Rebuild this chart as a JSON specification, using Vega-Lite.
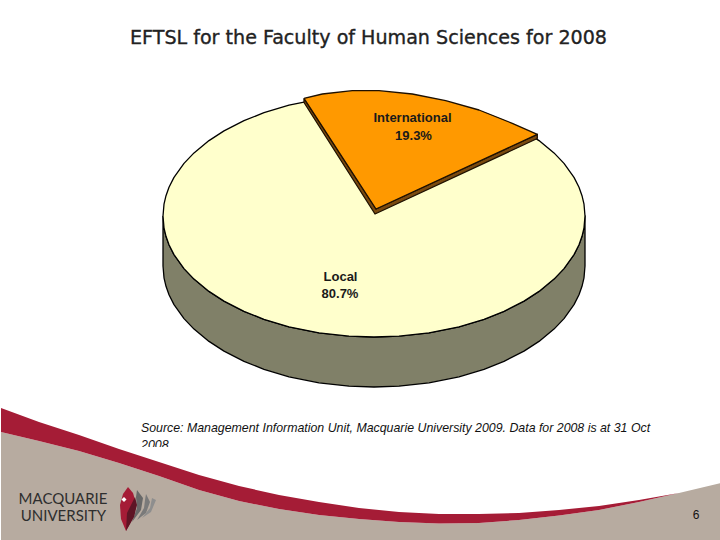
{"$schema":"https://vega.github.io/schema/vega-lite/v6.json","width":720,"height":540,"padding":0,"background":"white","view":{"stroke":null},"layer":[
{"data":{"values":[{"t":"2008","x":142,"y":445}]},"mark":{"type":"text","font":"Liberation Sans","fontStyle":"italic","fontSize":12.4,"align":"left","baseline":"middle","color":"#111"},"encoding":{"x":{"field":"x","type":"quantitative","scale":{"domain":[2,722]},"axis":null},"y":{"field":"y","type":"quantitative","scale":{"domain":[0,540],"reverse":true},"axis":null},"text":{"field":"t"}}},
{"data":{"values":[
{"p":"patch","i":1,"x":135,"y":447},{"p":"patch","i":2,"x":180,"y":447},{"p":"patch","i":3,"x":180,"y":470},{"p":"patch","i":4,"x":135,"y":470},{"p":"patch","i":5,"x":135,"y":447},
{"p":"tan","i":1,"x":2,"y":432},{"p":"tan","i":2,"x":40,"y":441},{"p":"tan","i":3,"x":80,"y":451},{"p":"tan","i":4,"x":120,"y":463},{"p":"tan","i":5,"x":160,"y":476},{"p":"tan","i":6,"x":200,"y":490},{"p":"tan","i":7,"x":240,"y":501},{"p":"tan","i":8,"x":280,"y":509},{"p":"tan","i":9,"x":320,"y":515},{"p":"tan","i":10,"x":360,"y":519},{"p":"tan","i":11,"x":400,"y":522},{"p":"tan","i":12,"x":440,"y":523.5},{"p":"tan","i":13,"x":480,"y":523},{"p":"tan","i":14,"x":520,"y":520},{"p":"tan","i":15,"x":560,"y":515.5},{"p":"tan","i":16,"x":600,"y":510},{"p":"tan","i":17,"x":640,"y":502},{"p":"tan","i":18,"x":680,"y":493},{"p":"tan","i":19,"x":722,"y":483},{"p":"tan","i":20,"x":722,"y":540},{"p":"tan","i":21,"x":2,"y":540},{"p":"tan","i":22,"x":2,"y":432},
{"p":"crimson","i":1,"x":2,"y":408},{"p":"crimson","i":2,"x":40,"y":422},{"p":"crimson","i":3,"x":80,"y":435},{"p":"crimson","i":4,"x":120,"y":449},{"p":"crimson","i":5,"x":160,"y":462},{"p":"crimson","i":6,"x":200,"y":475},{"p":"crimson","i":7,"x":240,"y":486},{"p":"crimson","i":8,"x":280,"y":495},{"p":"crimson","i":9,"x":320,"y":502},{"p":"crimson","i":10,"x":360,"y":508},{"p":"crimson","i":11,"x":400,"y":512},{"p":"crimson","i":12,"x":440,"y":514},{"p":"crimson","i":13,"x":480,"y":514},{"p":"crimson","i":14,"x":520,"y":513},{"p":"crimson","i":15,"x":560,"y":510},{"p":"crimson","i":16,"x":600,"y":506},{"p":"crimson","i":17,"x":640,"y":500},{"p":"crimson","i":18,"x":680,"y":493},{"p":"crimson","i":19,"x":640,"y":502},{"p":"crimson","i":20,"x":600,"y":510},{"p":"crimson","i":21,"x":560,"y":515.5},{"p":"crimson","i":22,"x":520,"y":520},{"p":"crimson","i":23,"x":480,"y":523},{"p":"crimson","i":24,"x":440,"y":523.5},{"p":"crimson","i":25,"x":400,"y":522},{"p":"crimson","i":26,"x":360,"y":519},{"p":"crimson","i":27,"x":320,"y":515},{"p":"crimson","i":28,"x":280,"y":509},{"p":"crimson","i":29,"x":240,"y":501},{"p":"crimson","i":30,"x":200,"y":490},{"p":"crimson","i":31,"x":160,"y":476},{"p":"crimson","i":32,"x":120,"y":463},{"p":"crimson","i":33,"x":80,"y":451},{"p":"crimson","i":34,"x":40,"y":441},{"p":"crimson","i":35,"x":2,"y":432},{"p":"crimson","i":36,"x":2,"y":408},
{"p":"petal3","i":1,"x":153,"y":498},{"p":"petal3","i":2,"x":157,"y":500},{"p":"petal3","i":3,"x":152,"y":512},{"p":"petal3","i":4,"x":143,"y":518},{"p":"petal3","i":5,"x":151,"y":508},{"p":"petal3","i":6,"x":153,"y":498},
{"p":"petal2","i":1,"x":147,"y":494},{"p":"petal2","i":2,"x":151,"y":502},{"p":"petal2","i":3,"x":147,"y":513},{"p":"petal2","i":4,"x":138,"y":520},{"p":"petal2","i":5,"x":145,"y":508},{"p":"petal2","i":6,"x":146,"y":500},{"p":"petal2","i":7,"x":147,"y":494},
{"p":"petal1","i":1,"x":138,"y":490},{"p":"petal1","i":2,"x":144,"y":498},{"p":"petal1","i":3,"x":142,"y":510},{"p":"petal1","i":4,"x":133,"y":522},{"p":"petal1","i":5,"x":138,"y":508},{"p":"petal1","i":6,"x":137,"y":497},{"p":"petal1","i":7,"x":138,"y":490},
{"p":"leaf","i":1,"x":129,"y":487},{"p":"leaf","i":2,"x":134,"y":493},{"p":"leaf","i":3,"x":137,"y":503},{"p":"leaf","i":4,"x":135,"y":516},{"p":"leaf","i":5,"x":127,"y":531},{"p":"leaf","i":6,"x":122,"y":519},{"p":"leaf","i":7,"x":121,"y":505},{"p":"leaf","i":8,"x":124,"y":494},{"p":"leaf","i":9,"x":129,"y":487},
{"p":"leafdark","i":1,"x":136,"y":497},{"p":"leafdark","i":2,"x":138,"y":505},{"p":"leafdark","i":3,"x":135,"y":517},{"p":"leafdark","i":4,"x":127,"y":531},{"p":"leafdark","i":5,"x":128,"y":513},{"p":"leafdark","i":6,"x":132,"y":505},{"p":"leafdark","i":7,"x":136,"y":497},
{"p":"star","i":1,"x":125,"y":497},{"p":"star","i":2,"x":127.5,"y":499.5},{"p":"star","i":3,"x":125,"y":502},{"p":"star","i":4,"x":122.5,"y":499.5},{"p":"star","i":5,"x":125,"y":497},
{"p":"side","i":1,"x":164,"y":216},{"p":"side","i":2,"x":165,"y":227.8},{"p":"side","i":3,"x":167,"y":236.3},{"p":"side","i":4,"x":170,"y":244.7},{"p":"side","i":5,"x":175,"y":254.6},{"p":"side","i":6,"x":185,"y":268.6},{"p":"side","i":7,"x":195,"y":279.1},{"p":"side","i":8,"x":210,"y":291.4},{"p":"side","i":9,"x":225,"y":301.1},{"p":"side","i":10,"x":245,"y":311.3},{"p":"side","i":11,"x":265,"y":319.3},{"p":"side","i":12,"x":290,"y":326.8},{"p":"side","i":13,"x":320,"y":332.8},{"p":"side","i":14,"x":350,"y":336.2},{"p":"side","i":15,"x":375,"y":337},{"p":"side","i":16,"x":400,"y":336.2},{"p":"side","i":17,"x":430,"y":332.8},{"p":"side","i":18,"x":460,"y":326.8},{"p":"side","i":19,"x":485,"y":319.3},{"p":"side","i":20,"x":505,"y":311.3},{"p":"side","i":21,"x":525,"y":301.1},{"p":"side","i":22,"x":540,"y":291.4},{"p":"side","i":23,"x":555,"y":279.1},{"p":"side","i":24,"x":565,"y":268.6},{"p":"side","i":25,"x":575,"y":254.6},{"p":"side","i":26,"x":580,"y":244.7},{"p":"side","i":27,"x":583,"y":236.3},{"p":"side","i":28,"x":585,"y":227.8},{"p":"side","i":29,"x":586,"y":216},
{"p":"side","i":30,"x":586,"y":266},{"p":"side","i":31,"x":585,"y":277.8},{"p":"side","i":32,"x":583,"y":286.3},{"p":"side","i":33,"x":580,"y":294.7},{"p":"side","i":34,"x":575,"y":304.6},{"p":"side","i":35,"x":565,"y":318.6},{"p":"side","i":36,"x":555,"y":329.1},{"p":"side","i":37,"x":540,"y":341.4},{"p":"side","i":38,"x":525,"y":351.1},{"p":"side","i":39,"x":505,"y":361.3},{"p":"side","i":40,"x":485,"y":369.3},{"p":"side","i":41,"x":460,"y":376.8},{"p":"side","i":42,"x":430,"y":382.8},{"p":"side","i":43,"x":400,"y":386.2},{"p":"side","i":44,"x":375,"y":387},{"p":"side","i":45,"x":350,"y":386.2},{"p":"side","i":46,"x":320,"y":382.8},{"p":"side","i":47,"x":290,"y":376.8},{"p":"side","i":48,"x":265,"y":369.3},{"p":"side","i":49,"x":245,"y":361.3},{"p":"side","i":50,"x":225,"y":351.1},{"p":"side","i":51,"x":210,"y":341.4},{"p":"side","i":52,"x":195,"y":329.1},{"p":"side","i":53,"x":185,"y":318.6},{"p":"side","i":54,"x":175,"y":304.6},{"p":"side","i":55,"x":170,"y":294.7},{"p":"side","i":56,"x":167,"y":286.3},{"p":"side","i":57,"x":165,"y":277.8},{"p":"side","i":58,"x":164,"y":266},{"p":"side","i":59,"x":164,"y":216},
{"p":"top","i":1,"x":164,"y":216},{"p":"top","i":2,"x":165,"y":204.2},{"p":"top","i":3,"x":167,"y":195.7},{"p":"top","i":4,"x":170,"y":187.3},{"p":"top","i":5,"x":175,"y":177.4},{"p":"top","i":6,"x":185,"y":163.4},{"p":"top","i":7,"x":195,"y":152.9},{"p":"top","i":8,"x":210,"y":140.6},{"p":"top","i":9,"x":225,"y":130.9},{"p":"top","i":10,"x":245,"y":120.7},{"p":"top","i":11,"x":265,"y":112.7},{"p":"top","i":12,"x":290,"y":105.2},{"p":"top","i":13,"x":320,"y":99.2},{"p":"top","i":14,"x":350,"y":95.8},{"p":"top","i":15,"x":375,"y":95},{"p":"top","i":16,"x":400,"y":95.8},{"p":"top","i":17,"x":430,"y":99.2},{"p":"top","i":18,"x":460,"y":105.2},{"p":"top","i":19,"x":485,"y":112.7},{"p":"top","i":20,"x":505,"y":120.7},{"p":"top","i":21,"x":525,"y":130.9},{"p":"top","i":22,"x":540,"y":140.6},{"p":"top","i":23,"x":555,"y":152.9},{"p":"top","i":24,"x":565,"y":163.4},{"p":"top","i":25,"x":575,"y":177.4},{"p":"top","i":26,"x":580,"y":187.3},{"p":"top","i":27,"x":583,"y":195.7},{"p":"top","i":28,"x":585,"y":204.2},{"p":"top","i":29,"x":586,"y":216},
{"p":"top","i":30,"x":585,"y":227.8},{"p":"top","i":31,"x":583,"y":236.3},{"p":"top","i":32,"x":580,"y":244.7},{"p":"top","i":33,"x":575,"y":254.6},{"p":"top","i":34,"x":565,"y":268.6},{"p":"top","i":35,"x":555,"y":279.1},{"p":"top","i":36,"x":540,"y":291.4},{"p":"top","i":37,"x":525,"y":301.1},{"p":"top","i":38,"x":505,"y":311.3},{"p":"top","i":39,"x":485,"y":319.3},{"p":"top","i":40,"x":460,"y":326.8},{"p":"top","i":41,"x":430,"y":332.8},{"p":"top","i":42,"x":400,"y":336.2},{"p":"top","i":43,"x":375,"y":337},{"p":"top","i":44,"x":350,"y":336.2},{"p":"top","i":45,"x":320,"y":332.8},{"p":"top","i":46,"x":290,"y":326.8},{"p":"top","i":47,"x":265,"y":319.3},{"p":"top","i":48,"x":245,"y":311.3},{"p":"top","i":49,"x":225,"y":301.1},{"p":"top","i":50,"x":210,"y":291.4},{"p":"top","i":51,"x":195,"y":279.1},{"p":"top","i":52,"x":185,"y":268.6},{"p":"top","i":53,"x":175,"y":254.6},{"p":"top","i":54,"x":170,"y":244.7},{"p":"top","i":55,"x":167,"y":236.3},{"p":"top","i":56,"x":165,"y":227.8},{"p":"top","i":57,"x":164,"y":216},
{"p":"wedgeside","i":1,"x":305,"y":98.3},{"p":"wedgeside","i":2,"x":377,"y":209},{"p":"wedgeside","i":3,"x":538.3,"y":134.3},{"p":"wedgeside","i":4,"x":538.3,"y":138.5},{"p":"wedgeside","i":5,"x":376,"y":214},{"p":"wedgeside","i":6,"x":305,"y":102.5},{"p":"wedgeside","i":7,"x":305,"y":98.3},
{"p":"wedge","i":1,"x":305,"y":98.3},{"p":"wedge","i":2,"x":323.3,"y":94},{"p":"wedge","i":3,"x":353.3,"y":90.7},{"p":"wedge","i":4,"x":380,"y":90.7},{"p":"wedge","i":5,"x":413.3,"y":94},{"p":"wedge","i":6,"x":446.7,"y":100.7},{"p":"wedge","i":7,"x":480,"y":110},{"p":"wedge","i":8,"x":513.3,"y":123.3},{"p":"wedge","i":9,"x":538.3,"y":134.3},{"p":"wedge","i":10,"x":377,"y":209},{"p":"wedge","i":11,"x":305,"y":98.3}
]},"mark":{"type":"line","strokeWidth":1.3,"strokeJoin":"round"},"encoding":{"x":{"field":"x","type":"quantitative","scale":{"domain":[2,722]},"axis":null},"y":{"field":"y","type":"quantitative","scale":{"domain":[0,540],"reverse":true},"axis":null},"order":{"field":"i","type":"quantitative"},"detail":{"field":"p"},
"fill":{"field":"p","type":"nominal","legend":null,"scale":{"domain":["patch","tan","crimson","petal3","petal2","petal1","leaf","leafdark","star","side","top","wedgeside","wedge"],"range":["#FFFFFF","#B7ABA0","#A51C36","#8E8E8E","#7A7A7A","#686868","#A51C36","#5E1525","#FFFFFF","#808068","#FFFFCC","#7A4A10","#FF9900"]}},
"stroke":{"field":"p","type":"nominal","legend":null,"scale":{"domain":["patch","tan","crimson","petal3","petal2","petal1","leaf","leafdark","star","side","top","wedgeside","wedge"],"range":["transparent","transparent","transparent","transparent","transparent","transparent","transparent","transparent","transparent","#000000","#000000","#1E1000","#1E1000"]}}}},
{"data":{"values":[{"t":"EFTSL for the Faculty of Human Sciences for 2008","x":369.5,"y":37.5}]},"mark":{"type":"text","font":"DejaVu Sans","fontSize":19.1,"fontWeight":"normal","align":"center","baseline":"middle","color":"#222","stroke":"#222","strokeWidth":0.35},"encoding":{"x":{"field":"x","type":"quantitative","scale":{"domain":[2,722]},"axis":null},"y":{"field":"y","type":"quantitative","scale":{"domain":[0,540],"reverse":true},"axis":null},"text":{"field":"t"}}},
{"data":{"values":[{"t":"International","x":413.5,"y":118},{"t":"19.3%","x":414.5,"y":135.5},{"t":"Local","x":341.5,"y":277},{"t":"80.7%","x":341,"y":294}]},"mark":{"type":"text","font":"Liberation Sans","fontSize":13,"fontWeight":"bold","align":"center","baseline":"middle","color":"#1a1a1a"},"encoding":{"x":{"field":"x","type":"quantitative","scale":{"domain":[2,722]},"axis":null},"y":{"field":"y","type":"quantitative","scale":{"domain":[0,540],"reverse":true},"axis":null},"text":{"field":"t"}}},
{"data":{"values":[{"t":"Source: Management Information Unit, Macquarie University 2009. Data for 2008 is at 31 Oct","x":142,"y":428}]},"mark":{"type":"text","font":"Liberation Sans","fontStyle":"italic","fontSize":12.35,"align":"left","baseline":"middle","color":"#111"},"encoding":{"x":{"field":"x","type":"quantitative","scale":{"domain":[2,722]},"axis":null},"y":{"field":"y","type":"quantitative","scale":{"domain":[0,540],"reverse":true},"axis":null},"text":{"field":"t"}}},
{"data":{"values":[{"t":"MACQUARIE","x":64,"y":499},{"t":"UNIVERSITY","x":64.5,"y":516}]},"mark":{"type":"text","font":"Lato","fontSize":15,"align":"center","baseline":"middle","color":"#2e2e2e"},"encoding":{"x":{"field":"x","type":"quantitative","scale":{"domain":[2,722]},"axis":null},"y":{"field":"y","type":"quantitative","scale":{"domain":[0,540],"reverse":true},"axis":null},"text":{"field":"t"}}},
{"data":{"values":[{"t":"6","x":697,"y":515}]},"mark":{"type":"text","font":"Liberation Sans","fontSize":12,"align":"center","baseline":"middle","color":"#111"},"encoding":{"x":{"field":"x","type":"quantitative","scale":{"domain":[2,722]},"axis":null},"y":{"field":"y","type":"quantitative","scale":{"domain":[0,540],"reverse":true},"axis":null},"text":{"field":"t"}}}
],"config":{"style":{"cell":{"stroke":null}}}}
